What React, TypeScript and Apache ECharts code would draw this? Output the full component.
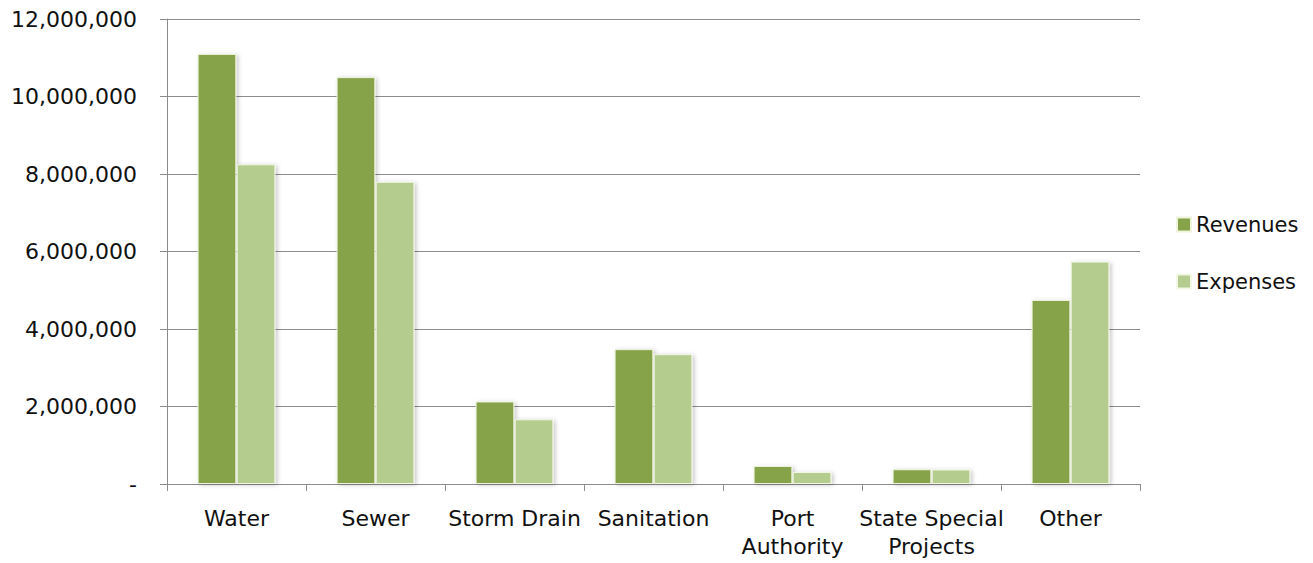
import React, { useEffect, useRef } from "react";
import * as echarts from "echarts";

const categories = ["Water", "Sewer", "Storm Drain", "Sanitation", "Port\nAuthority", "State Special\nProjects", "Other"];
const revenues = [11100000, 10500000, 2130000, 3480000, 465000, 380000, 4750000];
const expenses = [8250000, 7800000, 1670000, 3350000, 310000, 375000, 5740000];
const yTicks = { min: 0, max: 12000000, interval: 2000000 };

const FONT = "DejaVu Sans";

export default function App() {
  const ref = useRef<HTMLDivElement>(null);
  useEffect(() => {
    if (!ref.current) return;
    const chart = echarts.init(ref.current, undefined, { renderer: "svg" });
    const shadow = {
      shadowColor: "rgba(0,0,0,0.22)",
      shadowBlur: 4,
      shadowOffsetX: 2,
      shadowOffsetY: 1,
    };
    chart.setOption({
      animation: false,
      backgroundColor: "#ffffff",
      grid: { left: 167, right: 173, top: 19, bottom: 79, containLabel: false },
      legend: {
        orient: "vertical",
        left: 1171,
        top: 209,
        itemWidth: 14,
        itemHeight: 14,
        itemGap: 36,
        icon: "rect",
        textStyle: { fontFamily: FONT, fontSize: 21, color: "#111111" },
        data: ["Revenues", "Expenses"],
      },
      xAxis: {
        type: "category",
        data: categories,
        axisLine: { show: true, lineStyle: { color: "#8c8c8c", width: 1 } },
        axisTick: { show: true, length: 7, lineStyle: { color: "#8c8c8c" } },
        axisLabel: {
          margin: 20,
          fontFamily: FONT,
          fontSize: 22,
          lineHeight: 28,
          color: "#111111",
          interval: 0,
        },
      },
      yAxis: {
        type: "value",
        min: yTicks.min,
        max: yTicks.max,
        interval: yTicks.interval,
        axisLine: { show: true, lineStyle: { color: "#8c8c8c", width: 1 } },
        axisTick: { show: true, inside: false, length: 7, lineStyle: { color: "#8c8c8c" } },
        splitLine: { show: true, lineStyle: { color: "#8c8c8c", width: 1 } },
        axisLabel: {
          margin: 30,
          fontFamily: FONT,
          fontSize: 22,
          color: "#111111",
          formatter: (v: number) => (v === 0 ? "-" : v.toLocaleString("en-US")),
        },
      },
      series: [
        {
          name: "Revenues",
          type: "bar",
          data: revenues,
          barGap: "1%",
          barCategoryGap: "44%",
          itemStyle: { color: "#86a34a", borderColor: "#eef4dc", borderWidth: 1, ...shadow },
        },
        {
          name: "Expenses",
          type: "bar",
          data: expenses,
          barGap: "1%",
          barCategoryGap: "44%",
          itemStyle: { color: "#b5cc8f", borderColor: "#f2f7e6", borderWidth: 1, ...shadow },
        },
      ],
    });
    return () => chart.dispose();
  }, []);
  return (
    <div
      ref={ref}
      style={{ position: "absolute", left: 0, top: 0, width: 1313, height: 563 }}
    />
  );
}
